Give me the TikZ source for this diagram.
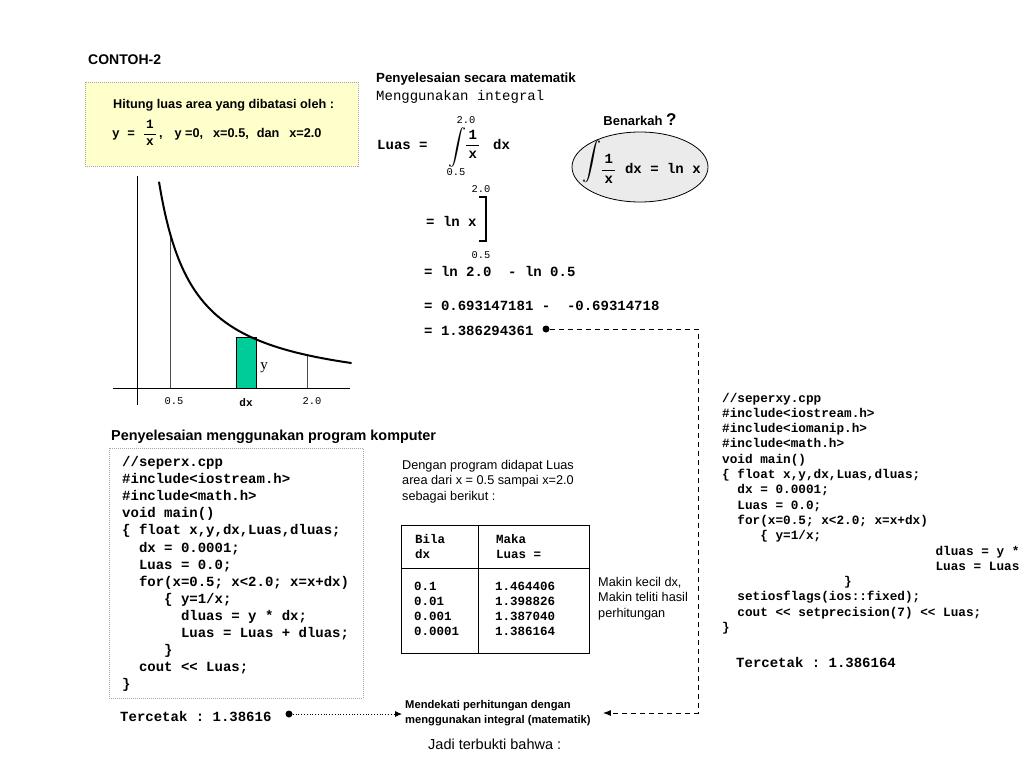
\documentclass[tikz,border=0pt]{standalone}
\usepackage{amsmath}
\usepackage{fontspec}
\setmainfont{Liberation Sans}
\setmonofont{Liberation Mono}
\newfontfamily\hurufserif{Liberation Serif}
\usepackage{tikz}
\usetikzlibrary{positioning, arrows.meta, shapes}
\usepackage{xcolor}
\definecolor{kuning}{HTML}{FFFFCC}
\definecolor{hijau}{HTML}{00CC99}
\definecolor{abu}{HTML}{EBEBEB}

\begin{document}
\begin{tikzpicture}[x=1pt, y=-1pt]
    % Define styles
    \tikzstyle{teks} = [anchor=base west, inner sep=0pt]
    \tikzstyle{judul} = [teks, font=\bfseries\fontsize{13.3}{16}\selectfont]
    \tikzstyle{biasa} = [teks, font=\fontsize{12.7}{15}\selectfont]
    \tikzstyle{kode} = [teks, font=\ttfamily\bfseries\fontsize{14}{17}\selectfont]
    \tikzstyle{kodekecil} = [teks, font=\ttfamily\bfseries\fontsize{12.7}{15}\selectfont]
    \tikzstyle{tabel} = [teks, font=\ttfamily\bfseries\fontsize{12.5}{15}\selectfont]
    \tikzstyle{batas} = [inner sep=0pt, anchor=base, font=\ttfamily\fontsize{10.4}{12}\selectfont]
    \tikzstyle{kotak} = [rectangle, draw=gray!70, dash pattern=on 1pt off 1pt, line width=1pt, inner sep=0pt]
    \tikzstyle{titik} = [circle, fill=black, inner sep=0pt, minimum size=7pt]
    \tikzstyle{garisputus} = [line width=1pt, dash pattern=on 5pt off 4pt, -{Latex[length=8pt,width=6pt]}]
    \tikzstyle{garistitik} = [line width=0.8pt, dotted, -{Latex[length=7pt,width=6pt]}]

    \useasboundingbox[fill=white] (0,0) rectangle (1024,768);

    % Soal
    \node[judul, font=\bfseries\fontsize{14}{16}\selectfont] (contoh) at (88,64.6) {CONTOH-2};
    \node[kotak, fill=kuning, minimum width=273, minimum height=84] (soal) at (221.5,124) {};
    \node[teks, font=\bfseries\fontsize{12.7}{15}\selectfont] (hitung) at (113,108.2) {Hitung luas area yang dibatasi oleh :};
    \node[teks, font=\bfseries\fontsize{12.7}{15}\selectfont] (fungsi) at (112,137) {{\ttfamily y = }$\dfrac{\mbox{\ttfamily\,1\,}}{\mbox{\ttfamily\,x\,}}$\,,\hspace{12pt}y =0,\hspace{10pt}x=0.5,\hspace{8pt}dan\hspace{10pt}x=2.0};

    % Grafik y = 1/x
    \draw (137,176) -- (137,405);
    \draw (113,388) -- (350,388);
    \draw[fill=hijau] (236,337) rectangle (256,388);
    \draw[gray!60!black] (170,388) -- (170,233);
    \draw[gray!60!black] (307,388) -- (307,355);
    \draw[line width=2pt] plot[domain=0.38:2.49, samples=80, smooth] ({124.3+91.3*\x},{395.7-81.3/\x});
    \node[inner sep=0pt, font=\hurufserif\fontsize{15}{16}\selectfont] (laby) at (264,368) {y};
    \node[batas] (lab05) at (174,404) {0.5};
    \node[batas, font=\ttfamily\bfseries\fontsize{11}{12}\selectfont] (labdx) at (246,406) {dx};
    \node[batas] (lab20) at (312,404) {2.0};

    % Penyelesaian matematik
    \node[judul] (matjudul) at (376,82.4) {Penyelesaian secara matematik};
    \node[teks, font=\ttfamily\fontsize{14}{16}\selectfont] (matsub) at (376,100) {Menggunakan integral};
    \node[kode] (luas) at (377,149) {Luas =};
    \node[scale=1.8, inner sep=0pt] (int1) at (457,147) {$\displaystyle\int$};
    \node[batas] (atas1) at (466,123.7) {2.0};
    \node[batas] (bawah1) at (456,175) {0.5};
    \node[kode] (frac1) at (465,149) {$\dfrac{\mbox{\,1\,}}{\mbox{\,x\,}}$};
    \node[kode] (dx1) at (493,149) {dx};
    \node[batas] (atas2) at (481,192) {2.0};
    \node[kode] (lnx) at (426,226) {= ln x};
    \draw[line width=1.5pt] (479,197) -- (486,197) -- (486,241) -- (479,241);
    \node[batas] (bawah2) at (481,258) {0.5};
    \node[kode] (baris3) at (424,276) {= ln 2.0~~- ln 0.5};
    \node[kode] (baris4) at (424,310) {= 0.693147181 -~~-0.69314718};
    \node[kode] (baris5) at (424,335) {= 1.386294361};
    \node[titik] (hasil) at (546,329) {};

    % Benarkah ?
    \node[ellipse, draw, fill=abu, minimum width=136, minimum height=70, line width=0.8pt] (benar) at (640,167) {};
    \node[scale=1.9, inner sep=0pt] (int2) at (592,162) {$\displaystyle\int$};
    \node[kode] (rumus) at (601,173.5) {$\dfrac{\mbox{\,1\,}}{\mbox{\,x\,}}$ dx = ln x};
    \node[inner sep=0pt, font=\bfseries\fontsize{13}{15}\selectfont, above=6pt of benar] (tanya) {Benarkah {\fontsize{17}{17}\selectfont ?}};

    % Program kiri
    \node[judul, font=\bfseries\fontsize{14.4}{17}\selectfont] (progjudul) at (111,440) {Penyelesaian menggunakan program komputer};
    \node[kotak, minimum width=254, minimum height=250] (kodekiri) at (236,573) {};
    \foreach \baris [count=\i] in {//seperx.cpp, \#include<iostream.h>, \#include<math.h>, void main(),
        {\{ float x,y,dx,Luas,dluas;}, {~~dx = 0.0001;}, {~~Luas = 0.0;}, {~~for(x=0.5; x<2.0; x=x+dx)},
        {~~~~~\{ y=1/x;}, {~~~~~~~dluas = y * dx;}, {~~~~~~~Luas = Luas + dluas;}, {~~~~~\}},
        {~~cout << Luas;}, \}}
        \node[kode] (kiri\i) at (122,{466.5+17.1*(\i-1)}) {\baris};
    \node[kode] (cetakkiri) at (120,721.5) {Tercetak : 1.38616};
    \node[titik] (titikkiri) at (289,714) {};

    % Tabel hasil
    \foreach \baris [count=\i] in {Dengan program didapat Luas, area dari x = 0.5 sampai x=2.0, sebagai berikut :}
        \node[biasa] (dengan\i) at (402,{469+15.6*(\i-1)}) {\baris};
    \draw[line width=1pt] (401,525) rectangle (589,653);
    \draw[line width=1pt] (478,525) -- (478,653);
    \draw[line width=1pt] (401,568) -- (589,568);
    \node[tabel] (bila) at (415,543) {Bila};
    \node[tabel] (bila2) at (415,558) {dx};
    \node[tabel] (maka) at (496,543) {Maka};
    \node[tabel] (maka2) at (496,558) {Luas =};
    \foreach \dx/\luas [count=\i] in {0.1/1.464406, 0.01/1.398826, 0.001/1.387040, 0.0001/1.386164} {
        \node[tabel] (dx\i) at (414,{590+15.3*(\i-1)}) {\dx};
        \node[tabel] (luas\i) at (495,{590+15.3*(\i-1)}) {\luas};
    }
    \foreach \baris [count=\i] in {{Makin kecil dx,}, Makin teliti hasil, perhitungan}
        \node[biasa] (makin\i) at (598,{586+15.5*(\i-1)}) {\baris};

    % Program kanan
    \foreach \baris [count=\i] in {//seperxy.cpp, \#include<iostream.h>, \#include<iomanip.h>, \#include<math.h>, void main(),
        {\{ float x,y,dx,Luas,dluas;}, {~~dx = 0.0001;}, {~~Luas = 0.0;}, {~~for(x=0.5; x<2.0; x=x+dx)},
        {~~~~~\{ y=1/x;}, {\hspace*{16.8em}dluas = y *}, {\hspace*{16.8em}Luas = Luas}, {\hspace*{9.6em}\}},
        {~~setiosflags(ios::fixed);}, {~~cout << setprecision(7) << Luas;}, \}}
        \node[kodekecil] (kanan\i) at (722,{402+15.3*(\i-1)}) {\baris};
    \node[kode] (cetakkanan) at (736,667.5) {Tercetak : 1.386164};

    % Kesimpulan
    \node[inner sep=0pt, anchor=west, align=left, font=\bfseries\fontsize{11.2}{14.5}\selectfont] (dekat) at (405,713) {Mendekati perhitungan dengan\\menggunakan integral (matematik)};
    \node[teks, font=\fontsize{14.5}{16}\selectfont] (jadi) at (428,749.5) {Jadi terbukti bahwa :};
    \coordinate (belok) at (698,329);

    % Arrows
    \draw[garisputus, shorten >=12pt] (hasil) -- (belok) |- (dekat.east);
    \draw[garistitik, shorten >=3pt] (titikkiri) -- (titikkiri -| dekat.west);
\end{tikzpicture}
\end{document}
